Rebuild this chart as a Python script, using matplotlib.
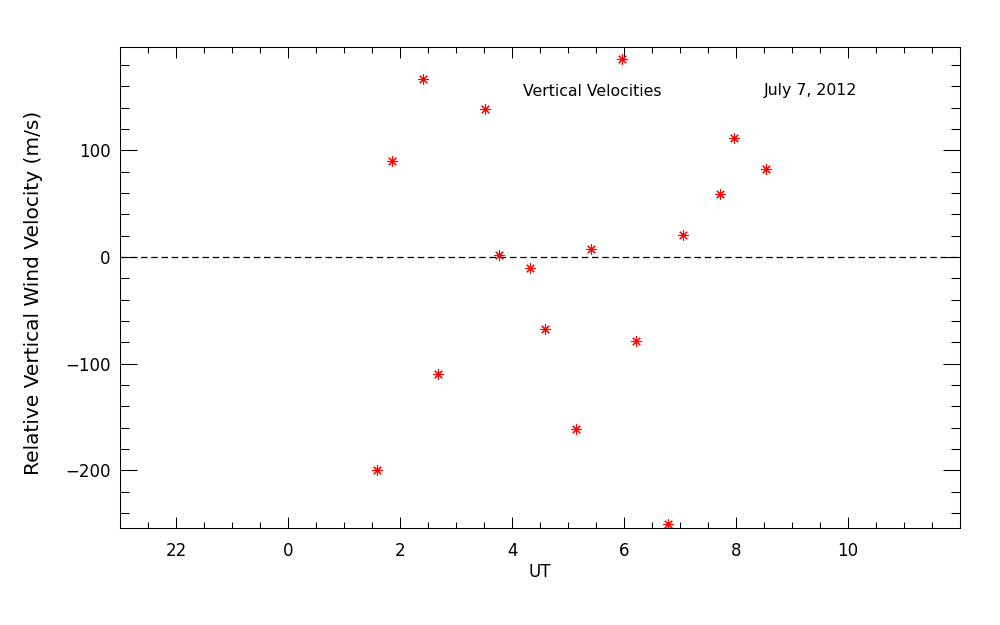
import matplotlib
matplotlib.use('Agg')
import matplotlib.pyplot as plt
import matplotlib.ticker as ticker

# UT hours (negative = previous day) and relative vertical wind (m/s)
ut = [1.58, 1.85, 2.40, 2.67, 3.51, 3.77, 4.31, 4.59, 5.14,
      5.40, 5.96, 6.22, 6.78, 7.05, 7.71, 7.97, 8.53]
vel = [-200, 90, 167, -110, 139, 2, -10, -67, -161,
       8, 186, -79, -250, 21, 59, 112, 83]

x_ticks = [-2, 0, 2, 4, 6, 8, 10]
x_labels = ['22', '0', '2', '4', '6', '8', '10']
y_ticks = [-200, -100, 0, 100]
y_labels = ['\u2212200', '\u2212100', '0', '100']

plt.rcParams['font.family'] = 'DejaVu Sans'

fig = plt.figure(figsize=(10, 6.25), dpi=100)
ax = fig.add_axes([0.1203, 0.1552, 0.8397, 0.7696])

ax.axhline(0, color='black', lw=0.9, ls=(0, (5.2, 3.0)))
ax.plot(ut, vel, ls='none', marker=(8, 2, 0), color='red',
        markersize=7.5, markeredgewidth=0.8)

ax.set_xlim(-3, 12)
ax.set_ylim(-254, 197)

ax.set_xticks(x_ticks)
ax.set_xticklabels(x_labels)
ax.xaxis.set_minor_locator(ticker.MultipleLocator(0.5))
ax.set_yticks(y_ticks)
ax.set_yticklabels(y_labels)
ax.yaxis.set_minor_locator(ticker.MultipleLocator(20))

ax.tick_params(axis='x', which='major', direction='in', length=7.6, width=0.75,
               top=True, labelsize=12, pad=10)
ax.tick_params(axis='x', which='minor', direction='in', length=4, width=0.75, top=True)
ax.tick_params(axis='y', which='major', direction='in', length=12.5, width=0.75,
               right=True, labelsize=12, pad=7)
ax.tick_params(axis='y', which='minor', direction='in', length=6.2, width=0.75, right=True)
for s in ax.spines.values():
    s.set_linewidth(0.75)

ax.set_xlabel('UT', fontsize=12, labelpad=2)
ax.set_ylabel('Relative Vertical Wind Velocity (m/s)', fontsize=14.5)
ax.yaxis.set_label_coords(-0.0925, 0.488)

fig.text(0.5227, 1 - 91 / 625, 'Vertical Velocities', fontsize=11.3, va='center', ha='left')
fig.text(0.764, 1 - 91 / 625, 'July 7, 2012', fontsize=11.3, va='center', ha='left')

fig.savefig('out.png', dpi=100)
